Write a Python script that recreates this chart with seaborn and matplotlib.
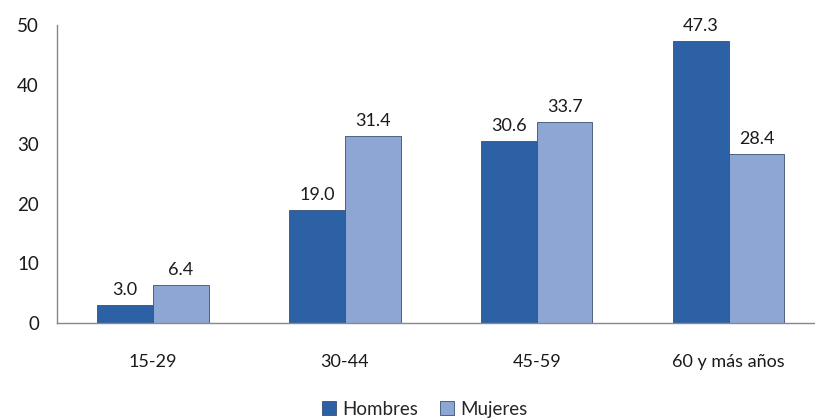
import pandas as pd
import numpy as np
import matplotlib
matplotlib.use("Agg")
import matplotlib.pyplot as plt
import seaborn as sns

grupos = ["15-29", "30-44", "45-59", "60 y más años"]
hombres = [3.0, 19.0, 30.6, 47.3]
mujeres = [6.4, 31.4, 33.7, 28.4]
series = ["Hombres", "Mujeres"]
colores = ["#2D61A6", "#8DA6D4"]
yticks = [0, 10, 20, 30, 40, 50]

df = pd.DataFrame({
    "grupo": grupos * 2,
    "sexo": ["Hombres"] * len(grupos) + ["Mujeres"] * len(grupos),
    "valor": hombres + mujeres,
})

sns.set_style("white")
plt.rcParams["font.family"] = ["Lato", "DejaVu Sans"]

fig = plt.figure(figsize=(8.15, 4.2), dpi=100)
ax = fig.add_axes([0.07, 0.231, 0.93, 0.7095])

sns.barplot(data=df, x="grupo", y="valor", hue="sexo", hue_order=series,
            palette=colores, width=0.58, gap=0, ax=ax, legend=True,
            edgecolor="#3B4F73", linewidth=0.6, saturation=1)

for cont in ax.containers:
    ax.bar_label(cont, fmt="%.1f", padding=5, fontsize=13, color="#1a1a1a")

ax.set_ylim(0, 50)
ax.set_xlim(-0.5, 3.45)
ax.set_yticks(yticks)
ax.set_yticklabels([str(v) for v in yticks], fontsize=13.5, color="#1a1a1a")
ax.set_xticks(range(len(grupos)))
ax.set_xticklabels(grupos, fontsize=13, color="#1a1a1a")
ax.tick_params(axis="x", length=0, pad=22)
ax.set_xticks([0.5, 1.5, 2.5], minor=True)
ax.tick_params(axis="x", which="minor", length=5, color="#888888", direction="out")
ax.tick_params(axis="y", length=5, color="#888888", direction="out", pad=8)
ax.set_xlabel("")
ax.set_ylabel("")

sns.despine(ax=ax, top=True, right=True)
for s in ["left", "bottom"]:
    ax.spines[s].set_color("#888888")
    ax.spines[s].set_linewidth(1)

ax.legend(loc="lower center", bbox_to_anchor=(0.485, -0.375), ncol=2, frameon=False,
          fontsize=13.5, handlelength=0.75, handleheight=0.75, handletextpad=0.3,
          columnspacing=1.2)

fig.savefig("out.png", dpi=100)
